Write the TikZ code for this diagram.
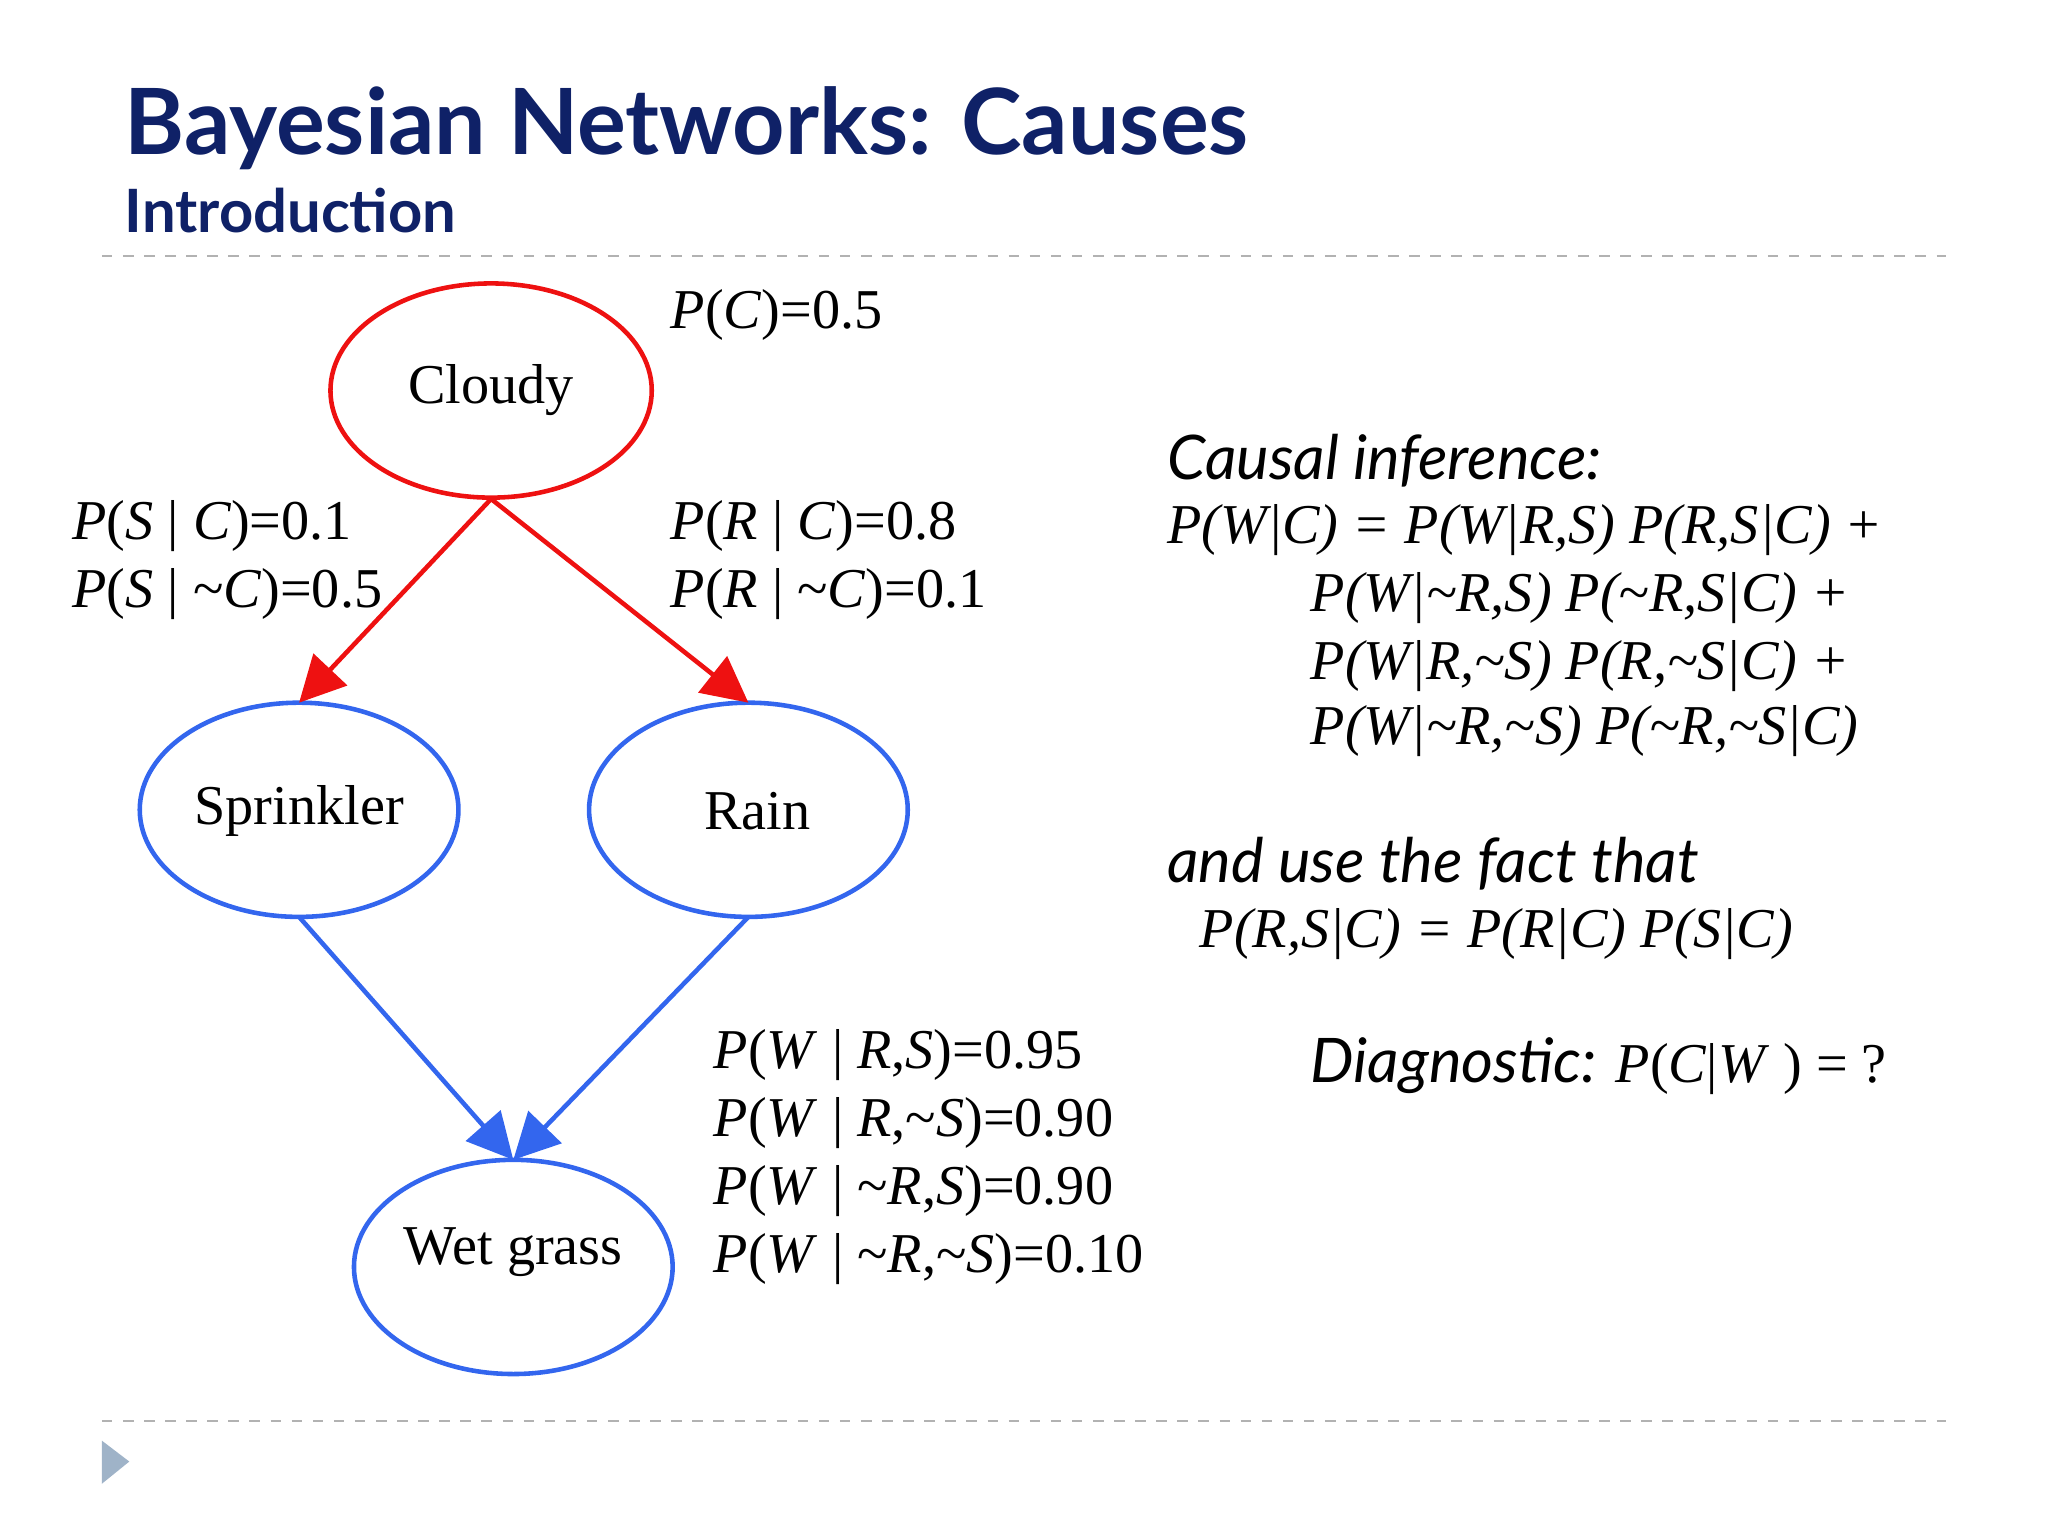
\documentclass[tikz,border=0pt]{standalone}
\usepackage{fontspec}
\setmainfont{Liberation Serif}
\newfontfamily\hd{Lato}
\usetikzlibrary{arrows.meta}
\definecolor{navy}{HTML}{0F2167}
\definecolor{rd}{HTML}{EE1111}
\definecolor{bl}{HTML}{3366EE}
\definecolor{tri}{HTML}{9FB3C8}
\begin{document}
\begin{tikzpicture}[x=0.013060cm,y=-0.013060cm,
  arr/.style={line width=1.3pt,-{Triangle[length=13pt,width=13pt]}},
  lab/.style={anchor=west,font=\fontsize{16}{19}\selectfont,inner sep=0pt},
  hand/.style={anchor=west,font=\hd\itshape\fontsize{17.5}{20}\selectfont,inner sep=0pt}]
\useasboundingbox (0,0) rectangle (1568,1176);
\node[anchor=base west,inner sep=0pt,text=navy,font=\hd\bfseries\fontsize{26}{30}\selectfont] (title) at (95,118) {Bayesian Networks: Causes};
\node[anchor=base west,inner sep=0pt,text=navy,font=\hd\bfseries\fontsize{17}{20}\selectfont] (sub) at (95,178) {Introduction};
\draw[gray!60,dashed,line width=0.6pt] (78,196) -- (1490,196);
\draw[gray!60,dashed,line width=0.6pt] (78,1088) -- (1490,1088);
\fill[tri] (78,1103) -- (99,1119) -- (78,1136) -- cycle;
\draw[rd,line width=1.3pt] (376,299) ellipse [x radius=123,y radius=82];
\draw[bl,line width=1.3pt] (229,620) ellipse [x radius=122,y radius=82];
\draw[bl,line width=1.3pt] (573,620) ellipse [x radius=122,y radius=82];
\draw[bl,line width=1.3pt] (393,970) ellipse [x radius=122,y radius=82];
\node[font=\fontsize{16}{19}\selectfont] (c) at (376,299) {Cloudy};
\node[font=\fontsize{16}{19}\selectfont] (s) at (229,621) {Sprinkler};
\node[font=\fontsize{16}{19}\selectfont] (r) at (580,621) {Rain};
\node[font=\fontsize{16}{19}\selectfont] (w) at (393,959) {Wet grass};
\coordinate (cb) at (376,382); \coordinate (st) at (229,538); \coordinate (rt) at (573,538);
\coordinate (sb) at (229,702); \coordinate (rb) at (573,702); \coordinate (wt) at (393,888);
\draw[arr,rd] (cb) -- (st);
\draw[arr,rd] (cb) -- (rt);
\draw[arr,bl] (sb) -- (wt);
\draw[arr,bl] (rb) -- (wt);
\node[lab] (pc) at (513,241) {\textit{P}(\textit{C})=0.5};
\node[lab] (ps1) at (55,403) {\textit{P}(\textit{S} | \textit{C})=0.1};
\node[lab] (ps2) at (55,455) {\textit{P}(\textit{S} | \textasciitilde\textit{C})=0.5};
\node[lab] (pr1) at (513,403) {\textit{P}(\textit{R} | \textit{C})=0.8};
\node[lab] (pr2) at (513,455) {\textit{P}(\textit{R} | \textasciitilde\textit{C})=0.1};
\node[lab] (pw1) at (546,808) {\textit{P}(\textit{W} | \textit{R},\textit{S})=0.95};
\node[lab] (pw2) at (546,860) {\textit{P}(\textit{W} | \textit{R},\textasciitilde\textit{S})=0.90};
\node[lab] (pw3) at (546,912) {\textit{P}(\textit{W} | \textasciitilde\textit{R},\textit{S})=0.90};
\node[lab] (pw4) at (546,964) {\textit{P}(\textit{W} | \textasciitilde\textit{R},\textasciitilde\textit{S})=0.10};
\node[hand] (ci) at (893,353) {Causal inference:};
\node[lab,font=\itshape\fontsize{16}{19}\selectfont] (f1) at (893,406) {P(W|C) = P(W|R,S) P(R,S|C) +};
\node[lab,font=\itshape\fontsize{16}{19}\selectfont] (f2) at (1003,458) {P(W|\textasciitilde R,S) P(\textasciitilde R,S|C) +};
\node[lab,font=\itshape\fontsize{16}{19}\selectfont] (f3) at (1003,510) {P(W|R,\textasciitilde S) P(R,\textasciitilde S|C) +};
\node[lab,font=\itshape\fontsize{16}{19}\selectfont] (f4) at (1003,560) {P(W|\textasciitilde R,\textasciitilde S) P(\textasciitilde R,\textasciitilde S|C)};
\node[hand] (uf) at (893,661) {and use the fact that};
\node[lab,font=\itshape\fontsize{16}{19}\selectfont] (f5) at (918,715) {P(R,S|C) = P(R|C) P(S|C)};
\node[lab] (dg) at (1003,816) {{\hd\itshape\fontsize{17.5}{20}\selectfont Diagnostic: }\textit{P}(\textit{C}|\textit{W} ) = ?};
\end{tikzpicture}
\end{document}
